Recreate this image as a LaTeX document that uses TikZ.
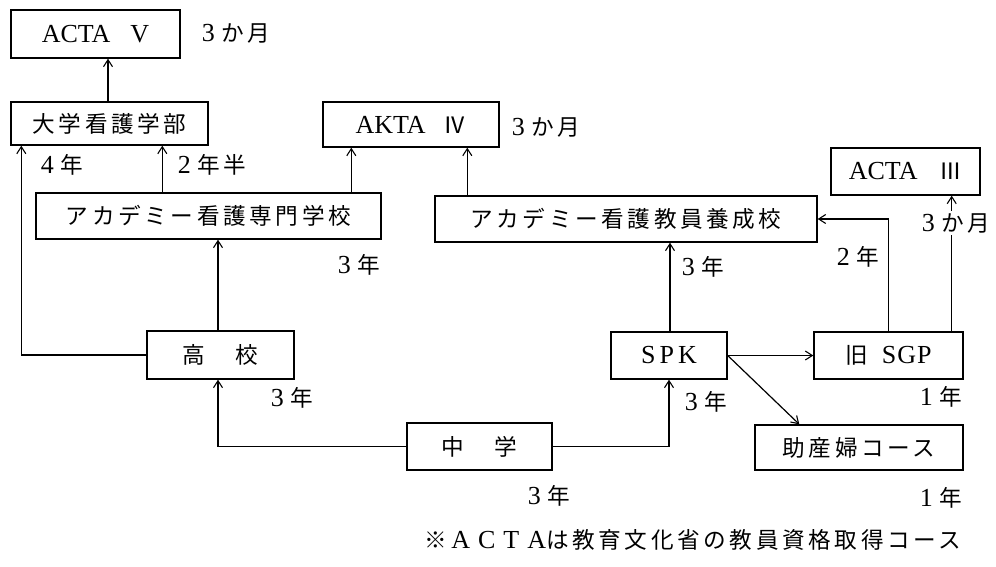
\documentclass[tikz,border=0pt]{standalone}
\usepackage{fontspec}
\setmainfont{Liberation Serif}
\newfontfamily\jpf[Scale=0.87,LetterSpace=16]{Noto Sans CJK JP}
\usetikzlibrary{arrows.meta,calc}
\newcommand\fs{\fontsize{26}{30}\selectfont}
\tikzset{
  box/.style={draw, line width=1.4pt, inner sep=0pt, font=\fs},
  lbl/.style={inner sep=0pt, font=\fs},
  conn/.style={line width=1.2pt, -{Straight Barb[length=7pt,width=9pt,line width=1.1pt]}}
}
\begin{document}
\begin{tikzpicture}[x=1pt,y=-1pt]
\useasboundingbox (0,0) rectangle (996,566);
% boxes
\node[box, minimum width=169pt, minimum height=48pt] (actaV) at (95.5,34) {ACTA\hspace{20pt}V};
\node[box, minimum width=197pt, minimum height=43pt] (daigaku) at (109.5,123.5) {\jpf 大学看護学部};
\node[box, minimum width=176pt, minimum height=45pt] (aktaIV) at (411,124.5) {AKTA\hspace{18pt}{\jpf Ⅳ}};
\node[box, minimum width=345pt, minimum height=46pt] (senmon) at (208.5,216) {\jpf アカデミー看護専門学校};
\node[box, minimum width=382pt, minimum height=46pt] (kyoin) at (626,219) {\jpf アカデミー看護教員養成校};
\node[box, minimum width=149pt, minimum height=47pt] (actaIII) at (905.5,171.5) {ACTA\hspace{22pt}{\jpf Ⅲ}};
\node[box, minimum width=147pt, minimum height=48pt] (koukou) at (220.5,355) {\jpf 高　校};
\node[box, minimum width=145pt, minimum height=47pt] (chugaku) at (479.5,446.5) {\jpf 中　学};
\node[box, minimum width=116pt, minimum height=47pt] (spk) at (669,355.5) {S\hspace{4pt}P\hspace{4pt}K};
\node[box, minimum width=149pt, minimum height=47pt] (sgp) at (888.5,355.5) {{\jpf 旧}\hspace{14pt}S\hspace{1pt}G\hspace{1pt}P};
\node[box, minimum width=208pt, minimum height=45pt] (josan) at (859,447.5) {\jpf 助産婦コース};
% connectors
\draw[conn] (daigaku.north) ++(-1.5,0) coordinate (d1) -- (d1 |- actaV.south);
\draw[conn] (koukou.west) -| ($(daigaku.south west)+(11,0)$);
\draw[conn] ($(senmon.north west)+(127,0)$) coordinate (s1) -- (s1 |- daigaku.south);
\draw[conn] ($(senmon.north west)+(316,0)$) coordinate (s2) -- (s2 |- aktaIV.south);
\draw[conn] ($(koukou.north)+(-2.5,0)$) coordinate (k1) -- (k1 |- senmon.south);
\draw[conn] (chugaku.west) -| (koukou.south -| k1);
\draw[conn] (chugaku.east) -| (spk.south);
\draw[conn] ($(spk.north)+(1,0)$) coordinate (p1) -- (p1 |- kyoin.south);
\draw[conn] ($(kyoin.north west)+(33,0)$) coordinate (y1) -- (y1 |- aktaIV.south);
\draw[conn] (spk.east) -- (sgp.west);
\draw[conn] (spk.east) -- ($(josan.north west)+(45,0)$);
\draw[conn] (sgp.north) |- (kyoin.east);
\draw[conn] ($(sgp.north east)+(-12,0)$) coordinate (g1) -- (g1 |- actaIII.south);
% labels
\node[lbl] (l1) at (236,33) {3~{\jpf か月}};
\node[lbl] (l2) at (546,127) {3~{\jpf か月}};
\node[lbl] (l3) at (62,165) {4~{\jpf 年}};
\node[lbl] (l4) at (212,165) {2~{\jpf 年半}};
\node[lbl] (l5) at (359,265) {3~{\jpf 年}};
\node[lbl] (l6) at (292,398) {3~{\jpf 年}};
\node[lbl] (l7) at (549,496) {3~{\jpf 年}};
\node[lbl] (l8) at (706,402) {3~{\jpf 年}};
\node[lbl] (l9) at (703,267) {3~{\jpf 年}};
\node[lbl] (l10) at (858,257) {2~{\jpf 年}};
\node[lbl, fill=white, inner sep=2pt] (l11) at (956,223) {3~{\jpf か月}};
\node[lbl] (l12) at (941,397) {1~{\jpf 年}};
\node[lbl] (l13) at (941,498) {1~{\jpf 年}};
\node[lbl] (foot) at (693,540) {{\jpf ※}\hspace{4pt}A\hspace{8pt}C\hspace{8pt}T\hspace{8pt}A{\jpf は教育文化省の教員資格取得コース}};
\end{tikzpicture}
\end{document}
